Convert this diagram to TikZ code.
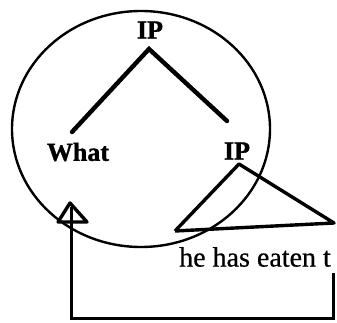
\documentclass[tikz,border=0pt]{standalone}
\usepackage{fontspec}
\setmainfont{Liberation Serif}
\newfontfamily\heavyserif[FakeBold=1.2]{Liberation Serif}
\newfontfamily\midserif[FakeBold=0.6]{Liberation Serif}
\begin{document}
\begin{tikzpicture}[x=1pt,y=-1pt,
  lbl/.style={font=\heavyserif\fontsize{26}{26}\selectfont\bfseries, inner sep=0pt},
  txt/.style={font=\midserif\fontsize{28}{28}\selectfont, inner sep=0pt},
  branch/.style={line width=4.4pt, line cap=round},
  tri/.style={line width=3.4pt, line join=round},
  loop/.style={line width=3pt, line join=miter},
  ring/.style={line width=2.4pt}]
\useasboundingbox (0,0) rectangle (337,323);
% big circle
\coordinate (cc) at (141,129);
\draw[ring] (cc) ellipse [x radius=129, y radius=118];
% labels
\node[lbl] (ip1) at (150,30) {IP};
\node[lbl] (what) at (78,152) {What};
\node[lbl] (ip2) at (237,151) {IP};
\node[txt] (sent) at (255,257) {he has eaten t};
% branch end points
\coordinate (top) at (149,49);
\coordinate (wl) at (72,132);
\coordinate (wr) at (227,121);
\draw[branch] (wl) -- (top) -- (wr);
% triangle
\coordinate (apex) at (239,164);
\coordinate (tl) at (175,231);
\coordinate (tr) at (334,223);
\draw[tri] (tl) -- (apex) -- (tr) -- (tl);
% movement arrow
\coordinate (s1) at (333,273);
\coordinate (s2) at (333,318);
\coordinate (s3) at (71,318);
\coordinate (tip) at (70,203);
\coordinate (bl) at (58,222);
\coordinate (br) at (87,222);
\draw[loop] (s1) -- (s2) -- (s3) -- (71,207);
\draw[tri] (tip) -- (bl) -- (br) -- cycle;
\end{tikzpicture}
\end{document}
